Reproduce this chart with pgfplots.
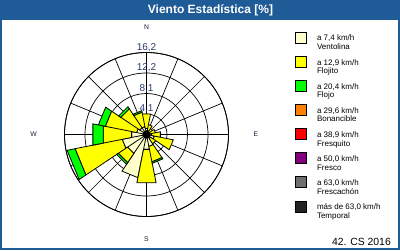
\documentclass[border=0pt]{standalone}
\usepackage{fontspec}
\setmainfont{Liberation Sans}
\usepackage{pgfplots}
\pgfplotsset{compat=1.18}
\usepgfplotslibrary{polar}
\definecolor{titlebl}{RGB}{31,91,151}
\definecolor{tickbl}{RGB}{40,60,110}
\definecolor{cVent}{RGB}{255,255,204}
\definecolor{cFlojito}{RGB}{255,255,0}
\definecolor{cFlojo}{RGB}{0,255,0}
\definecolor{cBon}{RGB}{255,128,0}
\definecolor{cFresq}{RGB}{255,0,0}
\definecolor{cFresco}{RGB}{128,0,128}
\definecolor{cFrescach}{RGB}{110,110,110}
\definecolor{cTemp}{RGB}{34,34,34}
\newcommand\lent[2]{\begin{tabular}[b]{@{}l@{}}#1\\#2\end{tabular}}
\begin{document}
\begin{tikzpicture}
\fill[white] (0,0) rectangle (400pt,-250pt);
\fill[titlebl] (0,0) rectangle (400pt,-20pt);
\draw[titlebl, line width=1.6pt] (0.8pt,-0.8pt) rectangle (399.2pt,-249.2pt);
\node[white, font=\bfseries\fontsize{12}{14}\selectfont, inner sep=0pt] at (210.5pt,-10.3pt) {Viento Estadística [\%]};
\begin{polaraxis}[
  at={(146.5pt,-134.5pt)}, anchor=center,
  scale only axis, width=164pt, height=164pt,
  ymin=0, ymax=16.2,
  xtick={0,22.5,...,337.5}, xticklabels={},
  ytick={4.05,8.1,12.15,16.2}, yticklabels={},
  grid=major, major grid style={black, line width=0.7pt},
  axis line style={black, line width=0.8pt},
  major tick length=0pt,
  clip=false,
  unbounded coords=jump,
  legend image code/.code={\draw[#1, draw=black, line width=0.8pt] (0pt,6.4pt) rectangle (11pt,17.4pt);},
  legend style={at={(axis description cs:1.4055,1.127)}, anchor=north west,
    draw=none, fill=none, inner sep=0pt,
    font=\fontsize{8}{8.7}\selectfont,
    cells={anchor=base west},
    nodes={inner sep=0pt, text depth=0pt},
    row sep=6.3pt,
    /tikz/every odd column/.append style={column sep=10pt}},
]
\addlegendimage{fill=cVent}
\addlegendentry{\lent{a 7,4 km/h}{Ventolina}}
\addlegendimage{fill=cFlojito}
\addlegendentry{\lent{a 12,9 km/h}{Flojito}}
\addlegendimage{fill=cFlojo}
\addlegendentry{\lent{a 20,4 km/h}{Flojo}}
\addlegendimage{fill=cBon}
\addlegendentry{\lent{a 29,6 km/h}{Bonancible}}
\addlegendimage{fill=cFresq}
\addlegendentry{\lent{a 38,9 km/h}{Fresquito}}
\addlegendimage{fill=cFresco}
\addlegendentry{\lent{a 50,0 km/h}{Fresco}}
\addlegendimage{fill=cFrescach}
\addlegendentry{\lent{a 63,0 km/h}{Frescachón}}
\addlegendimage{fill=cTemp}
\addlegendentry{\lent{más de 63,0 km/h}{Temporal}}
% Ventolina
\addplot[forget plot, fill=cVent, draw=black, line width=0.8pt] coordinates {
(0,0) (78.75,1.2) (101.25,1.2) (0,0) (nan,nan)
(0,0) (56.25,0.8) (78.75,0.8) (0,0) (nan,nan)
(0,0) (33.75,0.6) (56.25,0.6) (0,0) (nan,nan)
(0,0) (11.25,0.6) (33.75,0.6) (0,0) (nan,nan)
(0,0) (-11.25,1.0) (11.25,1.0) (0,0) (nan,nan)
(0,0) (-33.75,1.6) (-11.25,1.6) (0,0) (nan,nan)
(0,0) (-56.25,1.0) (-33.75,1.0) (0,0) (nan,nan)
(0,0) (-78.75,2.4) (-56.25,2.4) (0,0) (nan,nan)
(0,0) (-101.25,3.0) (-78.75,3.0) (0,0) (nan,nan)
(0,0) (-123.75,8.7) (-101.25,8.7) (0,0) (nan,nan)
(0,0) (-146.25,4.5) (-123.75,4.5) (0,0) (nan,nan)
(0,0) (-168.75,4.9) (-146.25,4.9) (0,0) (nan,nan)
(0,0) (168.75,3.0) (191.25,3.0) (0,0) (nan,nan)
(0,0) (146.25,2.0) (168.75,2.0) (0,0) (nan,nan)
(0,0) (123.75,1.6) (146.25,1.6) (0,0) (nan,nan)
(0,0) (101.25,1.6) (123.75,1.6) (0,0)
};
% Flojito
\addplot[forget plot, fill=cFlojito, draw=black, line width=0.8pt] coordinates {
(78.75,1.2) (78.75,4.15) (101.25,4.15) (101.25,1.2) (78.75,1.2) (nan,nan)
(56.25,0.8) (56.25,2.0) (78.75,2.0) (78.75,0.8) (56.25,0.8) (nan,nan)
(33.75,0.6) (33.75,1.4) (56.25,1.4) (56.25,0.6) (33.75,0.6) (nan,nan)
(11.25,0.6) (11.25,1.8) (33.75,1.8) (33.75,0.6) (11.25,0.6) (nan,nan)
(-11.25,1.0) (-11.25,2.8) (11.25,2.8) (11.25,1.0) (-11.25,1.0) (nan,nan)
(-33.75,1.6) (-33.75,5.4) (-11.25,5.4) (-11.25,1.6) (-33.75,1.6) (nan,nan)
(-56.25,1.0) (-56.25,2.2) (-33.75,2.2) (-33.75,1.0) (-56.25,1.0) (nan,nan)
(-78.75,2.4) (-78.75,5.5) (-56.25,5.5) (-56.25,2.4) (-78.75,2.4) (nan,nan)
(-101.25,3.0) (-101.25,9.7) (-78.75,9.7) (-78.75,3.0) (-101.25,3.0) (nan,nan)
(-146.25,4.5) (-146.25,6.7) (-123.75,6.7) (-123.75,4.5) (-146.25,4.5) (nan,nan)
(-168.75,4.9) (-168.75,14.4) (-146.25,14.4) (-146.25,4.9) (-168.75,4.9) (nan,nan)
(168.75,3.0) (168.75,8.7) (191.25,8.7) (191.25,3.0) (168.75,3.0) (nan,nan)
(146.25,2.0) (146.25,8.3) (168.75,8.3) (168.75,2.0) (146.25,2.0) (nan,nan)
(123.75,1.6) (123.75,6.1) (146.25,6.1) (146.25,1.6) (123.75,1.6) (nan,nan)
(101.25,1.6) (101.25,4.5) (123.75,4.5) (123.75,1.6) (101.25,1.6)
};
% Flojo
\addplot[forget plot, fill=cFlojo, draw=black, line width=0.8pt] coordinates {
(-78.75,5.5) (-78.75,5.8) (-56.25,5.8) (-56.25,5.5) (-78.75,5.5) (nan,nan)
(-146.25,6.7) (-146.25,7.1) (-123.75,7.1) (-123.75,6.7) (-146.25,6.7) (nan,nan)
(-168.75,14.4) (-168.75,16.0) (-146.25,16.0) (-146.25,14.4) (-168.75,14.4) (nan,nan)
(168.75,8.7) (168.75,10.8) (191.25,10.8) (191.25,8.7) (168.75,8.7) (nan,nan)
(146.25,8.3) (146.25,9.7) (168.75,9.7) (168.75,8.3) (146.25,8.3) (nan,nan)
(123.75,6.1) (123.75,6.6) (146.25,6.6) (146.25,6.1) (123.75,6.1) (nan,nan)
(101.25,4.5) (101.25,4.8) (123.75,4.8) (123.75,4.5) (101.25,4.5)
};
% calm
\addplot[forget plot, only marks, mark=*, mark size=3.8pt, black] coordinates {(0,0)};
% labels
\begin{scope}[every node/.style={font=\fontsize{10}{12}\selectfont, text=tickbl, anchor=south, inner sep=0.6pt}]
\node at (axis cs:90,4.05) {4,1};
\node at (axis cs:90,8.1) {8,1};
\node at (axis cs:90,12.15) {12,2};
\node at (axis cs:90,16.2) {16,2};
\end{scope}
\begin{scope}[every node/.style={font=\fontsize{6.8}{8}\selectfont, text={rgb,255:red,25;green,25;blue,60}, inner sep=0pt}]
\node at (axis cs:90,21.3) {N};
\node at (axis cs:0,21.6) {E};
\node at (axis cs:270,20.6) {S};
\node at (axis cs:180,22.3) {W};
\end{scope}
\end{polaraxis}
\node[anchor=base east, font=\fontsize{10.4}{12}\selectfont, inner sep=0pt] at (391pt,-245pt) {42. CS 2016};
\pgfresetboundingbox
\useasboundingbox (0,0) rectangle (400pt,-250pt);
\end{tikzpicture}
\end{document}
